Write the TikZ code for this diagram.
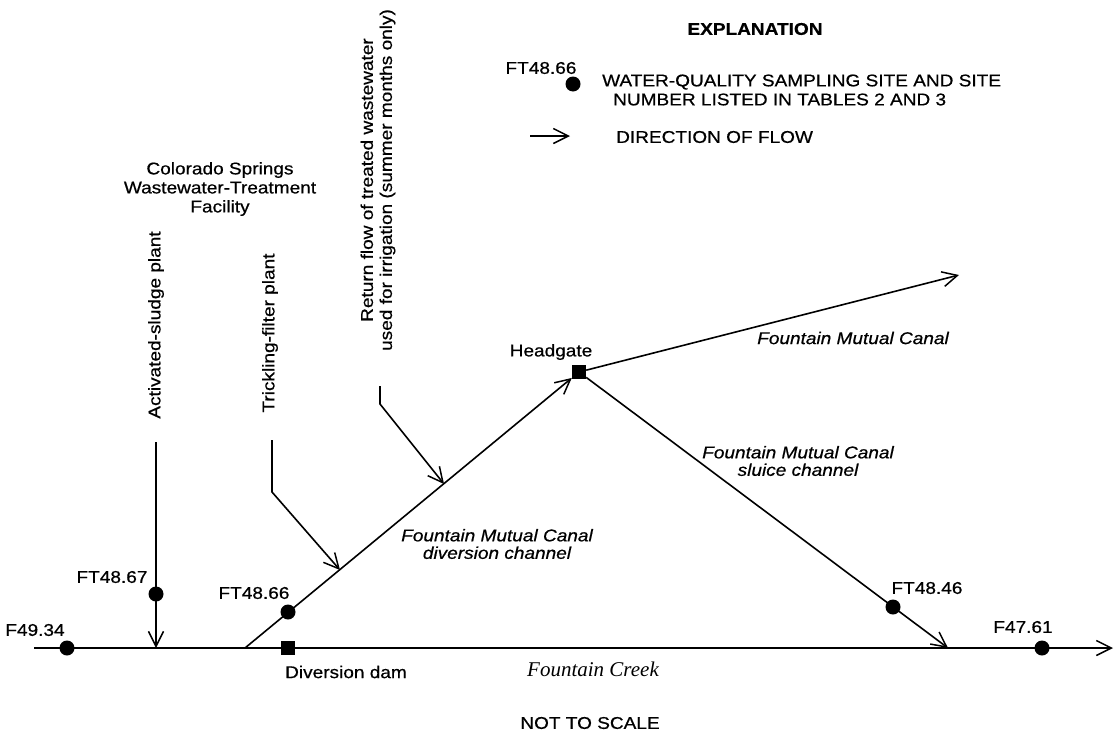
\documentclass[tikz,border=0pt]{standalone}
\usepackage{fontspec}
\setmainfont[FakeStretch=1.12,FakeBold=0.6]{Liberation Sans}
\newfontfamily\creekfont{Liberation Serif}
\usetikzlibrary{arrows.meta}

\tikzstyle{flow} = [draw, line width=1.6pt, -{Straight Barb[length=15pt,width=15pt,line width=1.5pt]}]
\tikzstyle{sitedot}=[circle,fill=black,minimum size=15pt,inner sep=0pt]
\tikzstyle{gatebox}=[rectangle,fill=black,minimum size=14pt,inner sep=0pt]
\tikzstyle{tag}=[font=\fontsize{17}{19}\selectfont, inner sep=0pt]
\tikzstyle{canal}=[font=\fontsize{17}{17.5}\selectfont\itshape, inner sep=0pt, align=center]

\begin{document}
\begin{tikzpicture}[x=1pt,y=-1pt]
       \useasboundingbox (0,0) rectangle (1114,734);
       % creek and canal end points
       \coordinate (creekW) at (34,648);
       \coordinate (creekE) at (1113,648);
       \coordinate (sludgetop) at (156,442);
       \coordinate (sludgeend) at (156,648);
       \coordinate (trickletop) at (272,440);
       \coordinate (tricklebend) at (272,492);
       \coordinate (trickleend) at (340,570);
       \coordinate (returntop) at (380,386);
       \coordinate (returnbend) at (380,404);
       \coordinate (returnend) at (444,484);
       \coordinate (divstart) at (245,648);
       \coordinate (sluiceend) at (948,648);
       \coordinate (canalend) at (959,275);
       \coordinate (keyflowA) at (530,136);
       \coordinate (keyflowB) at (570,136);

       \path[flow] (creekW) -- (creekE);
       \path[flow] (sludgetop) -- (sludgeend);
       \path[flow] (trickletop) -- (tricklebend) -- (trickleend);
       \path[flow] (returntop) -- (returnbend) -- (returnend);
       \path[flow] (keyflowA) -- (keyflowB);

       \node[gatebox] (headgate) at (579,372) {};
       \node[gatebox] (divdam) at (288,648) {};
       \path[flow] (divstart) -- (headgate);
       \path[flow] (headgate) -- (sluiceend);
       \path[flow] (headgate) -- (canalend);

       % sampling sites
       \foreach \pos/\name in {{(67,648)/f4934}, {(156,594)/ft4867}, {(288,612)/ft4866}, {(893,607)/ft4846}, {(1042,648)/f4761}, {(573,84)/keysite}} {
           \node[sitedot] (\name) at \pos {};
       }
       \foreach \pos/\name/\txt in {{(35,630)/tf4934/F49.34}, {(112,577)/tft4867/FT48.67}, {(254,593)/tft4866/FT48.66},
                                    {(927,588)/tft4846/FT48.46}, {(1023,627)/tf4761/F47.61}, {(541,68)/tkeysite/FT48.66}} {
           \node[tag] (\name) at \pos {\txt};
       }

       \node[tag] (damtag) at (346,672) {Diversion dam};
       \node[tag] (gatetag) at (551,352) {Headgate};
       \node[inner sep=0pt, font=\fontsize{21}{24}\selectfont\creekfont\itshape] (creektag) at (593,669) {Fountain Creek};
       \node[tag] (scaletag) at (590,723) {NOT TO SCALE};

       \node[canal] (canaltag) at (853,338) {Fountain Mutual Canal};
       \node[canal] (sluicetag) at (798,461) {Fountain Mutual Canal\\sluice channel};
       \node[canal] (divtag) at (497,544) {Fountain Mutual Canal\\diversion channel};

       \node[tag, align=center] (facility) at (220,189) {Colorado Springs\\Wastewater-Treatment\\Facility};
       \node[tag, rotate=90] (sludgetag) at (156,325) {Activated-sludge plant};
       \node[tag, rotate=90] (trickletag) at (270,333) {Trickling-filter plant};
       \node[tag, rotate=90, align=center] (returntag) at (378,180) {Return flow of treated wastewater\\used for irrigation (summer months only)};

       % explanation
       \node[tag, font=\fontsize{17}{19}\selectfont\bfseries] (explain) at (755,29) {EXPLANATION};
       \node[tag, anchor=west, align=left] (keysitetag) at (602,90) {WATER-QUALITY SAMPLING SITE AND SITE\\\hspace*{11pt}NUMBER LISTED IN TABLES 2 AND 3};
       \node[tag, anchor=west] (keyflowtag) at (616,137) {DIRECTION OF FLOW};
\end{tikzpicture}
\end{document}
